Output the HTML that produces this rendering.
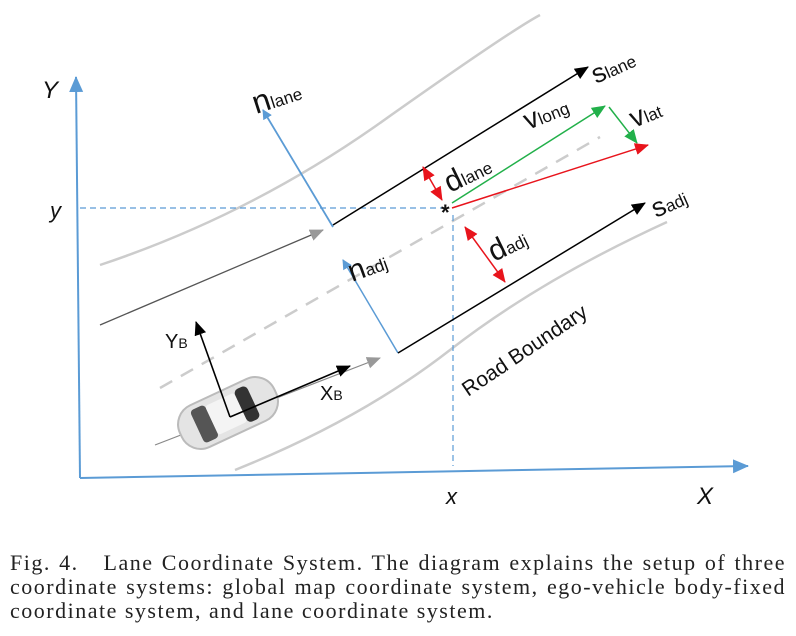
<!DOCTYPE html>
<html><head><meta charset="utf-8"><style>
body{margin:0;background:#fff;width:796px;height:636px;overflow:hidden;position:relative}
.cap{position:absolute;left:10px;top:551px;width:776px;font-family:"Liberation Serif",serif;font-size:22px;line-height:24px;letter-spacing:1.5px;color:#222}
.cap div{text-align:justify;text-align-last:justify;white-space:nowrap}
.cap div.l{text-align-last:left}
</style></head><body>
<svg width="796" height="540" style="position:absolute;left:0;top:0" font-family="'Liberation Sans',sans-serif">
<defs>
<marker id="bl" markerWidth="10" markerHeight="10" refX="9" refY="5" orient="auto" markerUnits="userSpaceOnUse" viewBox="0 0 10 10"><path d="M0,0L10,5L0,10z" fill="#5b9bd5"/></marker>
<marker id="bk" markerWidth="14" markerHeight="14" refX="13" refY="7" orient="auto" markerUnits="userSpaceOnUse" viewBox="0 0 14 14"><path d="M0,1L14,7L0,13z" fill="#000"/></marker>
<marker id="gy" markerWidth="14" markerHeight="14" refX="13" refY="7" orient="auto" markerUnits="userSpaceOnUse" viewBox="0 0 14 14"><path d="M0,1L14,7L0,13z" fill="#999"/></marker>
<marker id="gr" markerWidth="14" markerHeight="14" refX="13" refY="7" orient="auto" markerUnits="userSpaceOnUse" viewBox="0 0 14 14"><path d="M0,1L14,7L0,13z" fill="#22b04a"/></marker>
<marker id="rd" markerWidth="14" markerHeight="14" refX="13" refY="7" orient="auto" markerUnits="userSpaceOnUse" viewBox="0 0 14 14"><path d="M0,1L14,7L0,13z" fill="#e8141c"/></marker>
<marker id="rds" markerWidth="14" markerHeight="14" refX="1" refY="7" orient="auto" markerUnits="userSpaceOnUse" viewBox="0 0 14 14"><path d="M14,1L0,7L14,13z" fill="#e8141c"/></marker>
<marker id="ba" markerWidth="16" markerHeight="16" refX="15" refY="8" orient="auto" markerUnits="userSpaceOnUse" viewBox="0 0 16 16"><path d="M0,1L16,8L0,15z" fill="#5b9bd5"/></marker>
</defs>
<path d="M100,265 Q250,215 380,123 T540,15" fill="none" stroke="#ccc" stroke-width="2.5"/>
<path d="M235,470 Q360,420 450,350 T667,222" fill="none" stroke="#ccc" stroke-width="2.5"/>
<path d="M160,388 L600,137" fill="none" stroke="#ccc" stroke-width="2.5" stroke-dasharray="14,10"/>
<line x1="80" y1="478" x2="76" y2="77" stroke="#5b9bd5" stroke-width="2" marker-end="url(#ba)"/>
<line x1="80" y1="478" x2="748" y2="466" stroke="#5b9bd5" stroke-width="2" marker-end="url(#ba)"/>
<line x1="80" y1="208" x2="445" y2="208" stroke="#5b9bd5" stroke-width="1.2" stroke-dasharray="6,4"/>
<line x1="453" y1="215" x2="453" y2="466" stroke="#5b9bd5" stroke-width="1.2" stroke-dasharray="6,4"/>
<line x1="100" y1="325" x2="323" y2="230" stroke="#555" stroke-width="1.3" marker-end="url(#gy)"/>
<line x1="333" y1="225" x2="588" y2="67" stroke="#000" stroke-width="1.5" marker-end="url(#bk)"/>
<line x1="333" y1="227" x2="263" y2="110" stroke="#5b9bd5" stroke-width="1.8" marker-end="url(#bl)"/>
<line x1="398" y1="353" x2="343" y2="260" stroke="#5b9bd5" stroke-width="1.5" marker-end="url(#bl)"/>
<line x1="398" y1="353" x2="645" y2="203" stroke="#000" stroke-width="1.5" marker-end="url(#bk)"/>
<line x1="155" y1="445" x2="380" y2="358" stroke="#888" stroke-width="1.2" marker-end="url(#gy)"/>
<line x1="452" y1="203" x2="605" y2="106" stroke="#22b04a" stroke-width="1.5" marker-end="url(#gr)"/>
<line x1="609" y1="107" x2="637" y2="143" stroke="#22b04a" stroke-width="1.5" marker-end="url(#gr)"/>
<line x1="452" y1="208" x2="648" y2="145" stroke="#e8141c" stroke-width="1.5" marker-end="url(#rd)"/>
<line x1="423" y1="167" x2="442" y2="200" stroke="#e8141c" stroke-width="1.5" marker-start="url(#rds)" marker-end="url(#rd)"/>
<line x1="465" y1="227" x2="505" y2="282" stroke="#e8141c" stroke-width="1.5" marker-start="url(#rds)" marker-end="url(#rd)"/>
<text x="441" y="220" font-size="22" font-weight="bold" fill="#111">*</text>
<g transform="translate(228,413) rotate(-25)">
<rect x="-52" y="-23" width="104" height="46" rx="21" fill="#e4e4e4" stroke="#bbb" stroke-width="2"/>
<rect x="-34" y="-18" width="16" height="36" rx="4" fill="#555"/>
<rect x="-18" y="-16" width="32" height="32" rx="3" fill="#f4f4f4"/>
<rect x="14" y="-18" width="14" height="36" rx="5" fill="#333"/>
</g>
<line x1="230" y1="417" x2="196" y2="322" stroke="#000" stroke-width="1.6" marker-end="url(#bk)"/>
<line x1="230" y1="417" x2="350" y2="366" stroke="#000" stroke-width="1.6" marker-end="url(#bk)"/>
<text x="42" y="98" font-size="24" font-style="italic" fill="#111">Y</text>
<text x="50" y="218" font-size="22" font-style="italic" fill="#111">y</text>
<text x="446" y="504" font-size="22" font-style="italic" fill="#111">x</text>
<text x="697" y="504" font-size="24" font-style="italic" fill="#111">X</text>
<text x="165" y="348" font-size="20" fill="#111">Y<tspan font-size="14">B</tspan></text>
<text x="320" y="400" font-size="20" fill="#111">X<tspan font-size="14">B</tspan></text>
<g transform="translate(256,114) rotate(-18)"><text font-size="32" fill="#111">n<tspan font-size="17">lane</tspan></text></g>
<g transform="translate(352,282) rotate(-20)"><text font-size="30" fill="#111">n<tspan font-size="17">adj</tspan></text></g>
<g transform="translate(596,84) rotate(-24)"><text font-size="27" fill="#111">s<tspan font-size="17">lane</tspan></text></g>
<g transform="translate(656,218) rotate(-24)"><text font-size="27" fill="#111">s<tspan font-size="17">adj</tspan></text></g>
<g transform="translate(450,193) rotate(-26)"><text font-size="30" fill="#111">d<tspan font-size="17">lane</tspan></text></g>
<g transform="translate(494,262) rotate(-26)"><text font-size="30" fill="#111">d<tspan font-size="17">adj</tspan></text></g>
<g transform="translate(528,130) rotate(-22)"><text font-size="28" fill="#111">v<tspan font-size="17">long</tspan></text></g>
<g transform="translate(634,128) rotate(-22)"><text font-size="28" fill="#111">v<tspan font-size="17">lat</tspan></text></g>
<g transform="translate(468,397) rotate(-34)"><text font-size="21" fill="#111">Road Boundary</text></g>
</svg>
<div class="cap"><div>Fig. 4.&nbsp;&nbsp;&nbsp;Lane Coordinate System. The diagram explains the setup of three</div><div>coordinate systems: global map coordinate system, ego-vehicle body-fixed</div><div class="l">coordinate system, and lane coordinate system.</div></div>
</body></html>
